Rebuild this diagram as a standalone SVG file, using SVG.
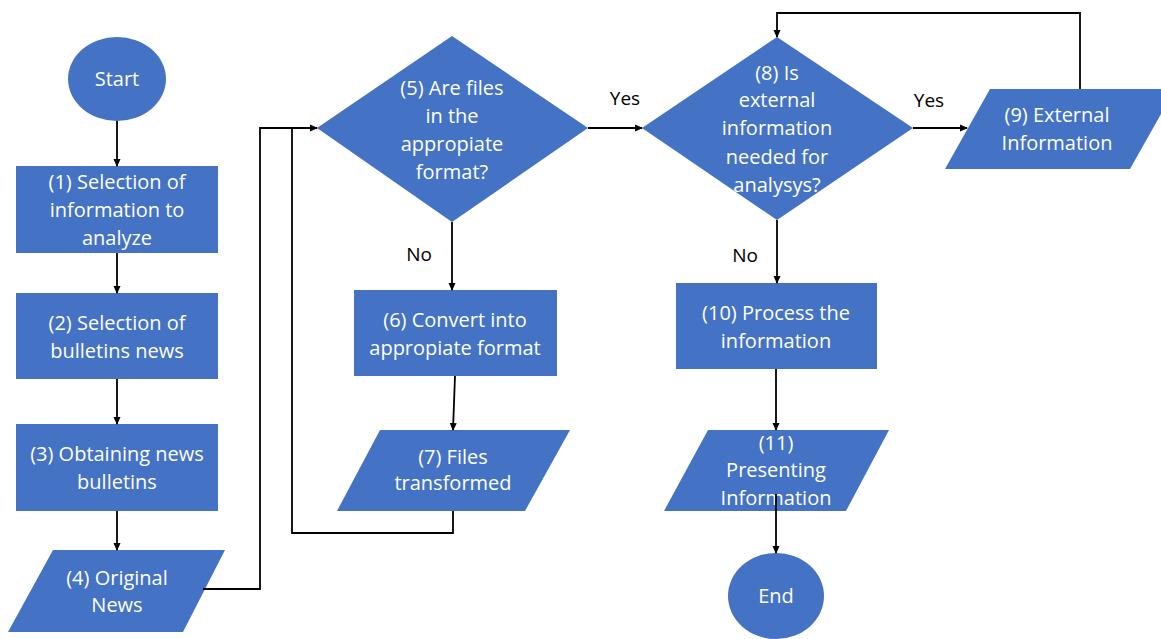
<svg xmlns="http://www.w3.org/2000/svg" width="1161" height="639" viewBox="0 0 1161 639">
  <defs>
    <marker id="arrow" markerWidth="8" markerHeight="8" refX="7" refY="4" orient="auto" markerUnits="userSpaceOnUse">
      <path d="M0,0.5 L8,4 L0,7.5 Z" fill="#000"/>
    </marker>
    <style>
      .shape { fill: #4472C4; }
      .label { font-family: "Open Sans", "Liberation Sans", sans-serif; font-size: 20px; fill: #ffffff; text-anchor: middle; }
      .edge-label { font-family: "Open Sans", "Liberation Sans", sans-serif; font-size: 19px; fill: #000; text-anchor: middle; }
      .wire { fill: none; stroke: #000; stroke-width: 1.8; }
    </style>
  </defs>
  <rect width="1161" height="639" fill="#ffffff"/>

  <!-- Nodes -->
  <g id="start">
    <ellipse class="shape" cx="117" cy="79" rx="49" ry="42"/>
    <text class="label" x="117" y="86">Start</text>
  </g>
  <g id="n1">
    <rect class="shape" x="16" y="166" width="202" height="87"/>
    <text class="label" x="117" y="189">(1) Selection of</text>
    <text class="label" x="117" y="217">information to</text>
    <text class="label" x="117" y="245">analyze</text>
  </g>
  <g id="n2">
    <rect class="shape" x="16" y="293" width="202" height="86"/>
    <text class="label" x="117" y="330">(2) Selection of</text>
    <text class="label" x="117" y="358">bulletins news</text>
  </g>
  <g id="n3">
    <rect class="shape" x="16" y="424" width="202" height="87"/>
    <text class="label" x="117" y="461">(3) Obtaining news</text>
    <text class="label" x="117" y="489">bulletins</text>
  </g>
  <g id="n4">
    <polygon class="shape" points="53,550 225,550 183,632 8,632"/>
    <text class="label" x="117" y="585">(4) Original</text>
    <text class="label" x="117" y="612">News</text>
  </g>
  <g id="n5">
    <polygon class="shape" points="452,36 588,128 452,222 317,128"/>
    <text class="label" x="452" y="95">(5) Are files</text>
    <text class="label" x="452" y="123">in the</text>
    <text class="label" x="452" y="151">appropiate</text>
    <text class="label" x="452" y="179">format?</text>
  </g>
  <g id="n6">
    <rect class="shape" x="354" y="290" width="203" height="86"/>
    <text class="label" x="455" y="327">(6) Convert into</text>
    <text class="label" x="455" y="355">appropiate format</text>
  </g>
  <g id="n7">
    <polygon class="shape" points="380,430 570,430 525,511 337,511"/>
    <text class="label" x="453" y="464">(7) Files</text>
    <text class="label" x="453" y="490">transformed</text>
  </g>
  <g id="n8">
    <polygon class="shape" points="777,37 913,128 777,220 642,128"/>
    <text class="label" x="777" y="80">(8) Is</text>
    <text class="label" x="777" y="107">external</text>
    <text class="label" x="777" y="135">information</text>
    <text class="label" x="777" y="164">needed for</text>
    <text class="label" x="777" y="192">analysys?</text>
  </g>
  <g id="n9">
    <polygon class="shape" points="990,89 1175,89 1130,169 945,169"/>
    <text class="label" x="1057" y="122">(9) External</text>
    <text class="label" x="1057" y="150">Information</text>
  </g>
  <g id="n10">
    <rect class="shape" x="676" y="283" width="201" height="86"/>
    <text class="label" x="776" y="320">(10) Process the</text>
    <text class="label" x="776" y="348">information</text>
  </g>
  <g id="n11">
    <polygon class="shape" points="708,430 889,430 846,511 664,511"/>
    <text class="label" x="776" y="450">(11)</text>
    <text class="label" x="776" y="477">Presenting</text>
    <text class="label" x="776" y="505">Information</text>
  </g>
  <g id="end">
    <ellipse class="shape" cx="776" cy="596" rx="48" ry="43"/>
    <text class="label" x="776" y="603">End</text>
  </g>

  <!-- Connectors -->
  <g id="connectors">
    <path class="wire" d="M117,121 V166" marker-end="url(#arrow)"/>
    <path class="wire" d="M117,253 V293" marker-end="url(#arrow)"/>
    <path class="wire" d="M117,379 V424" marker-end="url(#arrow)"/>
    <path class="wire" d="M117,511 V550" marker-end="url(#arrow)"/>
    <path class="wire" d="M203,589 H260 V128 H317" marker-end="url(#arrow)"/>
    <path class="wire" d="M453,511 V533 H292 V128"/>
    <path class="wire" d="M452,222 V290" marker-end="url(#arrow)"/>
    <path class="wire" d="M455,376 L453,430" marker-end="url(#arrow)"/>
    <path class="wire" d="M588,128 H642" marker-end="url(#arrow)"/>
    <path class="wire" d="M913,128 H967" marker-end="url(#arrow)"/>
    <path class="wire" d="M1080,89 V13 H777 V37" marker-end="url(#arrow)"/>
    <path class="wire" d="M777,220 V283" marker-end="url(#arrow)"/>
    <path class="wire" d="M776,369 V430" marker-end="url(#arrow)"/>
    <path class="wire" d="M776,494 V553" marker-end="url(#arrow)"/>
  </g>

  <!-- Branch labels -->
  <g id="branch-labels">
    <text class="edge-label" x="419" y="261">No</text>
    <text class="edge-label" x="625" y="105">Yes</text>
    <text class="edge-label" x="929" y="107">Yes</text>
    <text class="edge-label" x="745" y="262">No</text>
  </g>
</svg>
